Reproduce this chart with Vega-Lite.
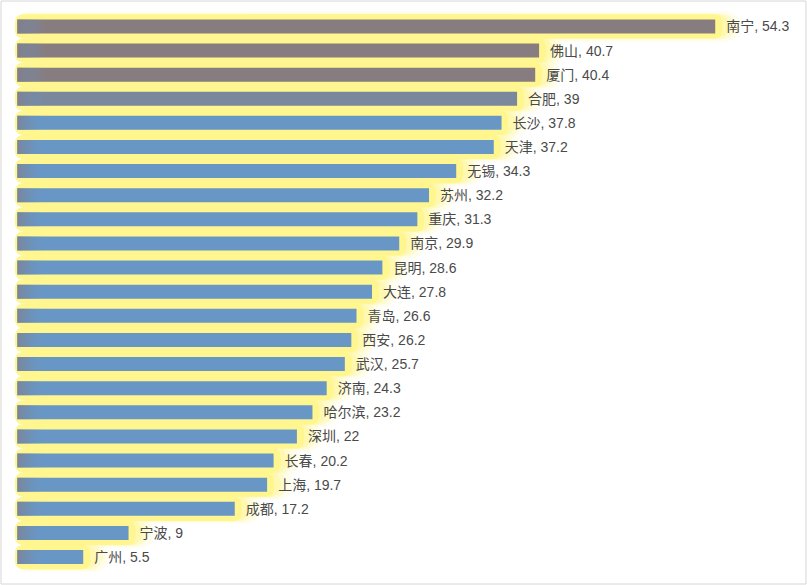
{
  "$schema": "https://vega.github.io/schema/vega-lite/v6.json",
  "autosize": {"type": "none"},
  "width": 805,
  "height": 583,
  "padding": {"left": 0.5, "top": 0.5, "right": 1.5, "bottom": 1.5},
  "background": "#ffffff",
  "config": {"view": {"stroke": "#d6d6d6", "strokeWidth": 1}},
  "data": {"values": [
    {"city": "南宁", "value": 54.3, "tier": "a"},
    {"city": "佛山", "value": 40.7, "tier": "a"},
    {"city": "厦门", "value": 40.4, "tier": "a"},
    {"city": "合肥", "value": 39, "tier": "b"},
    {"city": "长沙", "value": 37.8, "tier": "c"},
    {"city": "天津", "value": 37.2, "tier": "c"},
    {"city": "无锡", "value": 34.3, "tier": "c"},
    {"city": "苏州", "value": 32.2, "tier": "c"},
    {"city": "重庆", "value": 31.3, "tier": "c"},
    {"city": "南京", "value": 29.9, "tier": "c"},
    {"city": "昆明", "value": 28.6, "tier": "c"},
    {"city": "大连", "value": 27.8, "tier": "c"},
    {"city": "青岛", "value": 26.6, "tier": "c"},
    {"city": "西安", "value": 26.2, "tier": "c"},
    {"city": "武汉", "value": 25.7, "tier": "c"},
    {"city": "济南", "value": 24.3, "tier": "c"},
    {"city": "哈尔滨", "value": 23.2, "tier": "c"},
    {"city": "深圳", "value": 22, "tier": "c"},
    {"city": "长春", "value": 20.2, "tier": "c"},
    {"city": "上海", "value": 19.7, "tier": "c"},
    {"city": "成都", "value": 17.2, "tier": "c"},
    {"city": "宁波", "value": 9, "tier": "c"},
    {"city": "广州", "value": 5.5, "tier": "c"}
  ]},
  "transform": [{"calculate": "datum.city + ', ' + datum.value", "as": "label"}],
  "encoding": {
    "y": {
      "field": "city", "type": "nominal", "sort": null, "axis": null,
      "scale": {"paddingInner": 0, "paddingOuter": 0.585, "align": 0.49}
    }
  },
  "layer": [
    {
      "mark": {"type": "bar", "color": "#fff68f", "opacity": 0.15, "size": 30, "xOffset": 26, "cornerRadius": 15},
      "encoding": {
        "x": {"field": "value", "type": "quantitative", "axis": null, "scale": {"domain": [-0.888, 61.27], "nice": false, "zero": false}},
        "x2": {"datum": 0.23}
      }
    },
    {
      "mark": {"type": "bar", "color": "#fff68f", "opacity": 0.3, "size": 26, "xOffset": 20, "cornerRadius": 13},
      "encoding": {
        "x": {"field": "value", "type": "quantitative"},
        "x2": {"datum": 0.23}
      }
    },
    {
      "mark": {"type": "bar", "color": "#fff68f", "opacity": 0.5, "size": 24.2, "xOffset": 14, "cornerRadius": 12},
      "encoding": {
        "x": {"field": "value", "type": "quantitative"},
        "x2": {"datum": 0.23}
      }
    },
    {
      "mark": {"type": "bar", "color": "#fff68f", "opacity": 1, "size": 24.2, "xOffset": 7, "cornerRadius": 8},
      "encoding": {
        "x": {"field": "value", "type": "quantitative"},
        "x2": {"datum": 0.23}
      }
    },
    {
      "mark": {"type": "bar", "size": 14},
      "encoding": {
        "x": {"field": "value", "type": "quantitative"},
        "x2": {"datum": 0.41},
        "color": {"field": "tier", "type": "nominal", "legend": null,
          "scale": {"domain": ["a", "b", "c"], "range": ["#877c80", "#7a879d", "#6897c6"]}}
      }
    },
    {
      "mark": {"type": "bar", "size": 14, "color": {"gradient": "linear", "x1": 0, "x2": 1, "y1": 0, "y2": 0, "stops": [{"offset": 0, "color": "rgba(128,128,140,0.8)"}, {"offset": 1, "color": "rgba(104,151,198,0)"}]}},
      "encoding": {
        "x": {"datum": 2.6},
        "x2": {"datum": 0.41}
      }
    },
    {
      "mark": {"type": "text", "align": "left", "baseline": "middle", "dx": 11, "dy": 1, "fontSize": 14, "font": "Liberation Sans, Noto Sans CJK SC", "color": "#4a4a4a"},
      "encoding": {
        "x": {"field": "value", "type": "quantitative"},
        "text": {"field": "label"}
      }
    }
  ]
}
